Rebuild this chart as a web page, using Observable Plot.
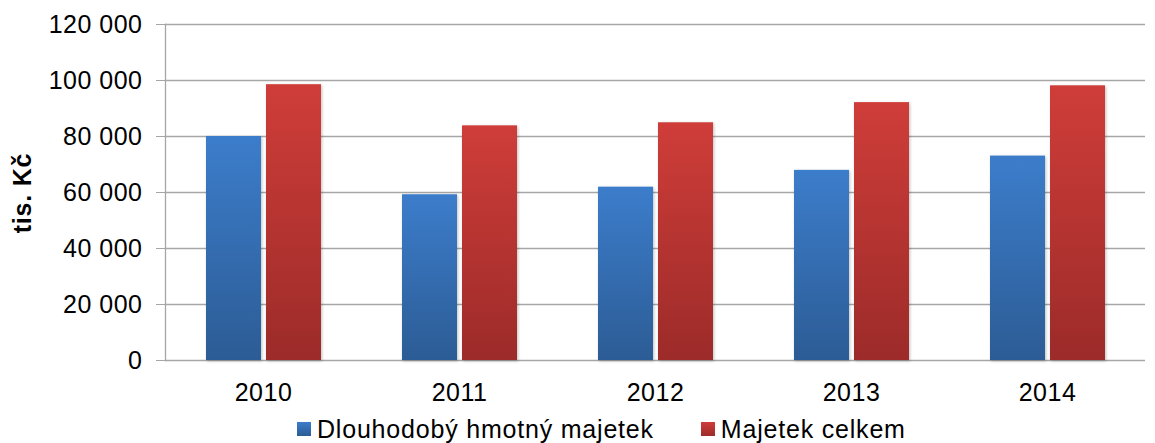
<!DOCTYPE html>
<html><head><meta charset="utf-8">
<script src="https://cdn.jsdelivr.net/npm/d3@7"></script>
<script src="https://cdn.jsdelivr.net/npm/@observablehq/plot@0.6"></script>
<style>
body{margin:0;background:#fff;font-family:"Liberation Sans",Arial,sans-serif;}
#wrap{position:relative;width:1155px;height:443px;overflow:hidden;}
.legend{position:absolute;left:297px;top:416px;display:flex;align-items:center;font-size:25px;letter-spacing:0.8px;color:#000;line-height:26px;white-space:nowrap;}
.sw{width:14px;height:14px;display:inline-block;margin-right:6px;}
.item{display:flex;align-items:center;}
.ytitle{position:absolute;left:22px;top:193px;transform:translate(-50%,-50%) rotate(-90deg);font-weight:bold;font-size:25px;letter-spacing:0.8px;white-space:nowrap;}
</style></head><body><div id="wrap"></div>
<script>
const years = ["2010","2011","2012","2013","2014"];
const seriesNames = ["Dlouhodobý hmotný majetek","Majetek celkem"];
const dlouhodoby = [80000,59200,61900,67900,73000];
const celkem = [98500,83800,84900,92100,98100];
const yTicks = [0,20000,40000,60000,80000,100000,120000];
const yTitle = "tis. Kč";
const gradTop = ["#3c7dcb","#cf3d39"];
const gradBottom = ["#2c5c95","#9c2b29"];

const data = years.flatMap((y,i)=>[
  {year:y, series:seriesNames[0], value:dlouhodoby[i]},
  {year:y, series:seriesNames[1], value:celkem[i]}
]);
const fmt = d => d3.format(",")(d).replace(/,/g," ");

const chart = Plot.plot({
  width:1155, height:410, marginLeft:163, marginRight:8, marginTop:24, marginBottom:50,
  style:{fontFamily:"Liberation Sans, Arial, sans-serif", fontSize:"25px", background:"#fff", color:"#000", overflow:"visible", letterSpacing:"0.5px"},
  fx:{domain:years, padding:0, label:null, axis:null},
  x:{domain:seriesNames, paddingInner:0.09, paddingOuter:0.656, axis:null},
  y:{domain:[0,120000]},
  color:{domain:seriesNames, range:["url(#g0)","url(#g1)"]},
  marks:[
    Plot.gridY(yTicks,{stroke:"#a6a6a6", strokeOpacity:1, strokeWidth:1.3}),
    Plot.barY(data,{fx:"year", x:"series", y:"value", fill:"series"}),
    Plot.axisY(yTicks,{tickSize:9, tickPadding:14, tickFormat:fmt, stroke:"#a6a6a6", fill:"#000", label:null}),
    Plot.axisFx({anchor:"bottom", tickSize:0, tickPadding:23, label:null, fill:"#000"}),
    Plot.frame({anchor:"left", facetAnchor:"left", stroke:"#a6a6a6", strokeWidth:1.3})
  ]
});

const svg = d3.select(chart);
const defs = svg.insert("defs",":first-child");
seriesNames.forEach((s,i)=>{
  const g = defs.append("linearGradient").attr("id","g"+i).attr("x1",0).attr("y1",0).attr("x2",0).attr("y2",1);
  g.append("stop").attr("offset","0%").attr("stop-color",gradTop[i]);
  g.append("stop").attr("offset","100%").attr("stop-color",gradBottom[i]);
});
svg.selectAll("g[aria-label='bar'] rect").style("filter","drop-shadow(1.5px 1px 1.5px rgba(0,0,0,0.25))");

const wrap = document.getElementById("wrap");
wrap.appendChild(chart);
const t = document.createElement("div");
t.className = "ytitle"; t.textContent = yTitle;
wrap.appendChild(t);
const leg = document.createElement("div");
leg.className = "legend";
seriesNames.forEach((s,i)=>{
  const it = document.createElement("span");
  it.className = "item";
  if (i>0) it.style.marginLeft = "47px";
  const sw = document.createElement("span");
  sw.className = "sw";
  sw.style.background = `linear-gradient(${gradTop[i]}, ${gradBottom[i]})`;
  it.appendChild(sw);
  it.appendChild(document.createTextNode(s));
  leg.appendChild(it);
});
wrap.appendChild(leg);
</script></body></html>
